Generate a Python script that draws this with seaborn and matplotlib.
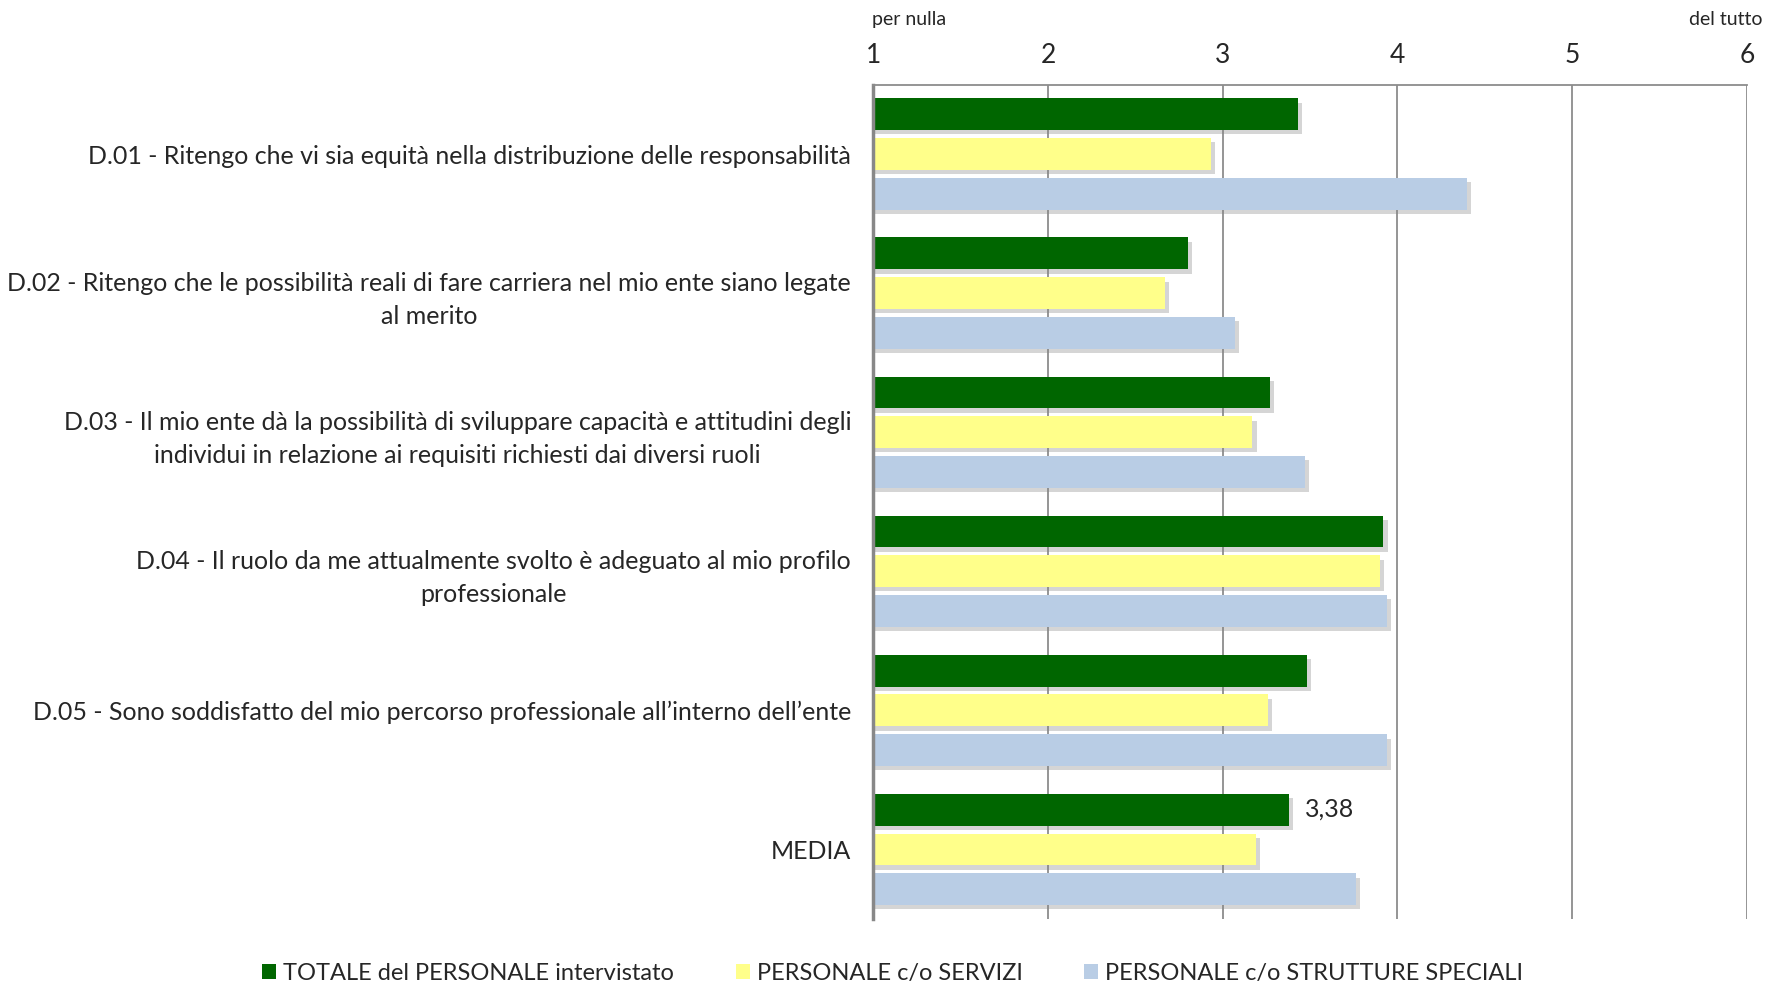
import matplotlib
matplotlib.use("Agg")
import matplotlib.pyplot as plt
import matplotlib.patheffects as pe
from matplotlib.patches import Patch
import seaborn as sns
import pandas as pd

categories = [
    "D.01 - Ritengo che vi sia equità nella distribuzione delle responsabilità",
    "D.02 - Ritengo che le possibilità reali di fare carriera nel mio ente siano legate\nal merito",
    "D.03 - Il mio ente dà la possibilità di sviluppare capacità e attitudini degli\nindividui in relazione ai requisiti richiesti dai diversi ruoli",
    "D.04 - Il ruolo da me attualmente svolto è adeguato al mio profilo\nprofessionale",
    "D.05 - Sono soddisfatto del mio percorso professionale all\u2019interno dell\u2019ente",
    "MEDIA",
]
series = ["TOTALE del PERSONALE intervistato", "PERSONALE c/o SERVIZI",
          "PERSONALE c/o STRUTTURE SPECIALI"]
totale = [3.43, 2.80, 3.27, 3.92, 3.48, 3.38]
servizi = [2.93, 2.67, 3.17, 3.90, 3.26, 3.19]
strutture = [4.40, 3.07, 3.47, 3.94, 3.94, 3.76]
colors = ["#006600", "#FFFF8A", "#B9CDE5"]

df = pd.DataFrame({
    "categoria": categories * 3,
    "serie": [series[0]] * 6 + [series[1]] * 6 + [series[2]] * 6,
    "valore": totale + servizi + strutture,
})

sns.set_style("white")
plt.rcParams['font.family'] = ['Lato', 'DejaVu Sans']

fig = plt.figure(figsize=(17.68, 9.85), dpi=100)
ax = fig.add_axes([0.494, 0.067, 0.494, 0.847])

sns.barplot(data=df, y="categoria", x="valore", hue="serie", orient="h",
            palette=colors, saturation=1, width=0.86, gap=0.2, ax=ax,
            legend=False, errorbar=None)

# ombra leggera sotto le barre
shadow = [pe.SimplePatchShadow(offset=(3, -3), shadow_rgbFace="#888888", alpha=0.35), pe.Normal()]
for p in ax.patches:
    p.set_path_effects(shadow)
    p.set_linewidth(0)

ax.set_xlim(1, 6)
ax.set_ylim(5.5, -0.5)
ax.xaxis.tick_top()
ax.set_xticks([1, 2, 3, 4, 5, 6])
ax.tick_params(axis="x", length=0, pad=12, labelsize=19)
ax.tick_params(axis="y", length=0, pad=16, labelsize=18)
for t in ax.get_yticklabels():
    t.set_multialignment("center")
    t.set_linespacing(1.5)
ax.set_xlabel("")
ax.set_ylabel("")

ax.grid(axis="x", color="#8c8c8c", linewidth=1.3)
ax.set_axisbelow(True)
for s in ["right", "bottom"]:
    ax.spines[s].set_visible(False)
ax.spines["top"].set_color("#8c8c8c")
ax.spines["top"].set_linewidth(1.3)
ax.spines["left"].set_color("#888888")
ax.spines["left"].set_linewidth(2.5)

ax.text(0.99, 1.068, "per nulla", transform=ax.get_xaxis_transform(), ha="left",
        va="bottom", fontsize=14)
ax.text(6.09, 1.068, "del tutto", transform=ax.get_xaxis_transform(), ha="right",
        va="bottom", fontsize=14)

ax.text(totale[5] + 0.09, 5 - 0.287, "3,38", ha="left", va="center", fontsize=18)

handles = [Patch(facecolor=c, edgecolor="none") for c in colors]
fig.legend(handles, series, loc="center", bbox_to_anchor=(0.505, 0.0115),
           ncol=3, frameon=False, fontsize=17, handlelength=0.6, handleheight=0.6,
           handletextpad=0.3, columnspacing=2.6)

fig.savefig("out.png", dpi=100)
